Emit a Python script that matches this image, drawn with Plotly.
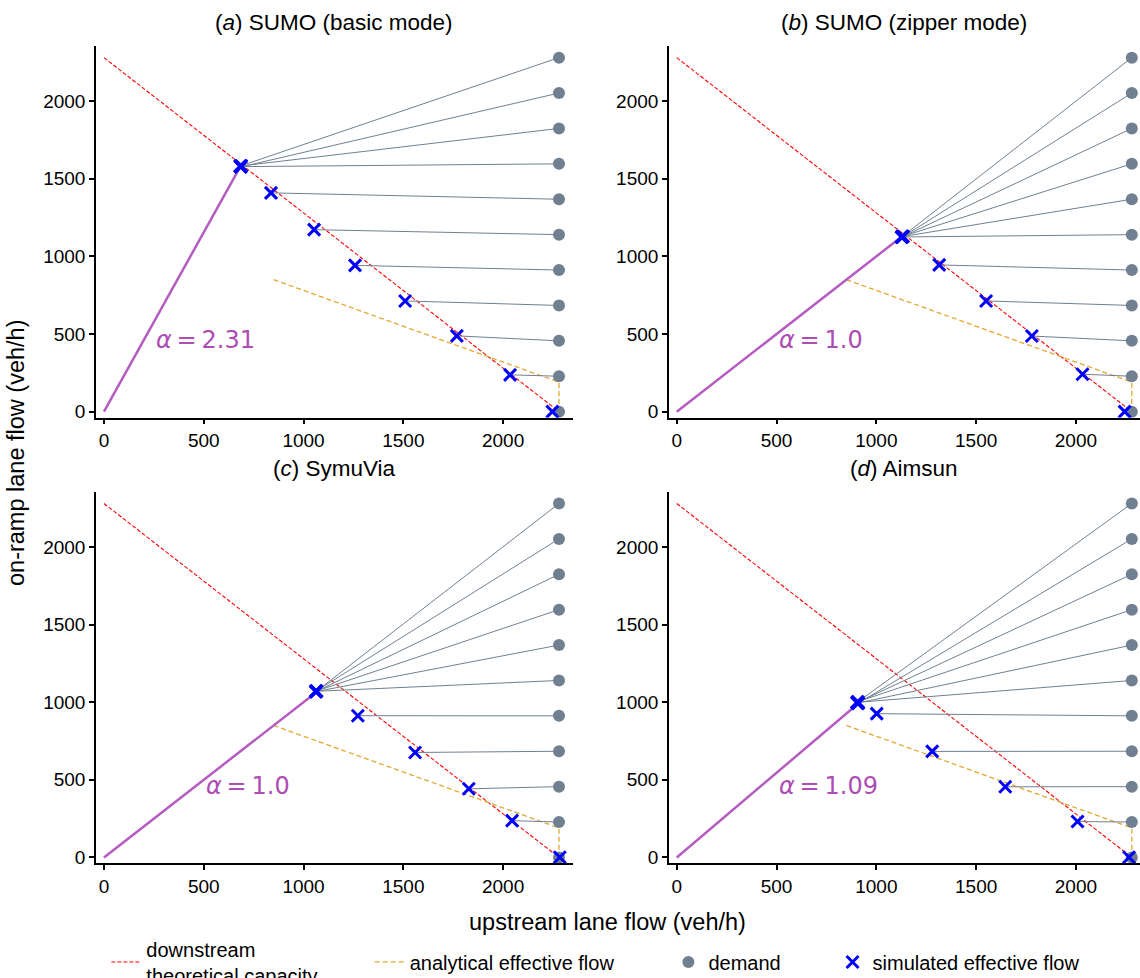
import plotly.graph_objects as go

# demand levels (veh/h): upstream demand is fixed, on-ramp demand is stepped
demand_upstream = [2280, 2280, 2280, 2280, 2280, 2280, 2280, 2280, 2280, 2280, 2280]
demand_ramp = [0, 228, 456, 684, 912, 1140, 1368, 1596, 1824, 2052, 2280]

# downstream theoretical capacity and analytical effective flow
capacity_x = [0, 2280]
capacity_y = [2280, 0]
analytical_x = [850, 2280, 2280]
analytical_y = [850, 190, 0]

# simulated effective flow, one point per on-ramp demand level
sumo_basic_x = [2247, 2035, 1768, 1509, 1258, 1053, 837, 684, 682, 686, 688]
sumo_basic_y = [0, 237, 488, 713, 942, 1172, 1409, 1578, 1582, 1576, 1584]
sumo_zipper_x = [2244, 2033, 1779, 1550, 1315, 1130, 1128, 1132, 1126, 1134, 1128]
sumo_zipper_y = [0, 241, 487, 713, 945, 1125, 1127, 1129, 1123, 1128, 1126]
symuvia_x = [2284, 2045, 1828, 1559, 1272, 1063, 1061, 1065, 1063, 1062, 1064]
symuvia_y = [1, 237, 442, 676, 913, 1070, 1068, 1072, 1069, 1071, 1070]
aimsun_x = [2266, 2008, 1646, 1280, 1002, 905, 910, 907, 903, 908, 905]
aimsun_y = [1, 231, 455, 683, 926, 999, 995, 1003, 997, 992, 1000]

alphas = [2.31, 1.0, 1.0, 1.09]
alpha_labels = ["2.31", "1.0", "1.0", "1.09"]
alpha_label_x = [250, 500, 500, 500]
alpha_label_y = [460, 460, 460, 460]

titles = ["(<i>a</i>) SUMO (basic mode)", "(<i>b</i>) SUMO (zipper mode)",
          "(<i>c</i>) SymuVia", "(<i>d</i>) Aimsun"]
panels = [(sumo_basic_x, sumo_basic_y), (sumo_zipper_x, sumo_zipper_y),
          (symuvia_x, symuvia_y), (aimsun_x, aimsun_y)]

FONT = "Liberation Sans, Arial, sans-serif"
RED = "#ff0000"
ORANGE = "#e3a72f"
PURPLE = "#b45cbf"
GRAY = "#708090"

fig = go.Figure()

x_domains = [[0.0842, 0.5026], [0.5868, 1.0], [0.0842, 0.5026], [0.5868, 1.0]]
y_domains = [[0.5729, 0.9533], [0.5729, 0.9533], [0.1171, 0.4974], [0.1171, 0.4974]]
x_ranges = [[-40, 2350], [-39, 2321], [-40, 2350], [-39, 2321]]

for i, (sx, sy) in enumerate(panels):
    xa = "x" if i == 0 else f"x{i+1}"
    ya = "y" if i == 0 else f"y{i+1}"
    first = i == 0

    fig.add_trace(go.Scatter(
        x=capacity_x, y=capacity_y, mode="lines", xaxis=xa, yaxis=ya,
        line=dict(color=RED, width=1.1, dash="4px,2px"),
        name="downstream<br>theoretical capacity", showlegend=first, legend="legend"))
    fig.add_trace(go.Scatter(
        x=analytical_x, y=analytical_y, mode="lines", xaxis=xa, yaxis=ya,
        line=dict(color=ORANGE, width=1.3, dash="5px,3px"),
        name="analytical effective flow", showlegend=first, legend="legend2"))

    # alpha line from the origin to the saturated simulated point
    fig.add_trace(go.Scatter(
        x=[0, sx[-1]], y=[0, alphas[i] * sx[-1]], mode="lines", xaxis=xa, yaxis=ya,
        line=dict(color=PURPLE, width=2.5), showlegend=False, hoverinfo="skip"))

    # grey segments joining each demand point to its simulated effective flow
    seg_x, seg_y = [], []
    for k in range(len(demand_ramp)):
        seg_x += [sx[k], demand_upstream[k], None]
        seg_y += [sy[k], demand_ramp[k], None]
    fig.add_trace(go.Scatter(
        x=seg_x, y=seg_y, mode="lines", xaxis=xa, yaxis=ya,
        line=dict(color=GRAY, width=1), showlegend=False, hoverinfo="skip"))

    fig.add_trace(go.Scatter(
        x=demand_upstream, y=demand_ramp, mode="markers", xaxis=xa, yaxis=ya,
        marker=dict(color=GRAY, size=12, symbol="circle"),
        name="demand", showlegend=first, legend="legend3"))
    fig.add_trace(go.Scatter(
        x=sx, y=sy, mode="markers", xaxis=xa, yaxis=ya,
        marker=dict(symbol="x-thin", size=12, line=dict(color="blue", width=3)),
        name="simulated effective flow", showlegend=first, legend="legend4"))

    fig.add_annotation(
        x=alpha_label_x[i], y=alpha_label_y[i], xref=xa, yref=ya,
        text=f"<i>α</i>\u2009=\u2009{alpha_labels[i]}", showarrow=False,
        xanchor="left", yanchor="middle",
        font=dict(family="DejaVu Sans", size=24, color="#ad4db3"))

    fig.add_annotation(
        x=sum(x_domains[i]) / 2, y=y_domains[i][1] + 0.024, xref="paper", yref="paper",
        text=titles[i], showarrow=False, xanchor="center", yanchor="middle",
        font=dict(family=FONT, size=22.5, color="black"))

axis_style = dict(
    showgrid=False, zeroline=False, showline=True, linecolor="black", linewidth=1.5,
    ticks="outside", ticklen=5, tickwidth=1.5, tickcolor="black", dtick=500,
    tickfont=dict(family=FONT, size=19, color="black"), mirror=False)

layout_axes = {}
for i in range(4):
    sfx = "" if i == 0 else str(i + 1)
    layout_axes[f"xaxis{sfx}"] = dict(
        axis_style, domain=x_domains[i], range=x_ranges[i],
        anchor="y" if i == 0 else f"y{i+1}")
    layout_axes[f"yaxis{sfx}"] = dict(
        axis_style, domain=y_domains[i], range=[-39, 2357],
        anchor="x" if i == 0 else f"x{i+1}")

legend_base = dict(orientation="h", yanchor="middle", y=0.0164, xanchor="left",
                   bgcolor="rgba(0,0,0,0)", font=dict(family=FONT, size=20, color="black"))

fig.update_layout(
    width=1140, height=978,
    margin=dict(l=0, r=0, t=0, b=0, pad=0, autoexpand=False),
    plot_bgcolor="white", paper_bgcolor="white",
    font=dict(family=FONT, color="black"),
    legend=dict(legend_base, x=0.0933),
    legend2=dict(legend_base, x=0.3243),
    legend3=dict(legend_base, x=0.5863),
    legend4=dict(legend_base, x=0.7303),
    **layout_axes,
)

fig.add_annotation(
    x=607 / 1140, y=1 - 922 / 978, xref="paper", yref="paper",
    text="upstream lane flow (veh/h)", showarrow=False,
    xanchor="center", yanchor="middle", font=dict(family=FONT, size=23.5, color="black"))
fig.add_annotation(
    x=16 / 1140, y=1 - 453 / 978, xref="paper", yref="paper",
    text="on-ramp lane flow (veh/h)", showarrow=False, textangle=-90,
    xanchor="center", yanchor="middle", font=dict(family=FONT, size=23.5, color="black"))

# drop the browser's default page margin so the figure fills the window
fig.write_html("out.html", config={"displayModeBar": False},
               post_script="document.body.style.margin='0';document.body.style.overflow='hidden';")
